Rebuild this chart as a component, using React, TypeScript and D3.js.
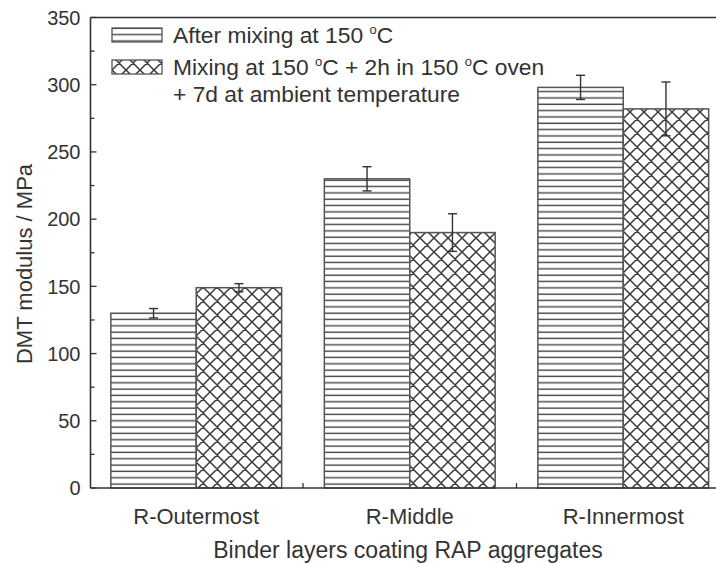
import React from "react"
import * as d3 from "d3"

// categories and values
const categories = ["R-Outermost", "R-Middle", "R-Innermost"]
const seriesKeys = ["mixed", "aged"]
const mixedValues = [130, 230, 298]
const mixedErrors = [3.5, 9, 9]
const agedValues = [149, 190, 282]
const agedErrors = [3, 14, 20]
const yMajorTicks = [0, 50, 100, 150, 200, 250, 300, 350]
const yMinorTicks = [25, 75, 125, 175, 225, 275, 325]

const W = 716
const H = 563
const FONT = "'Liberation Sans', Arial, sans-serif"
const INK = "#333"

export default function App() {
    const x0 = 90.5
    const x1 = 730
    const yTop = 17.5
    const yBottom = 488

    const x = d3.scaleBand<string>()
        .domain(categories)
        .range([89.5, x1])
        .paddingInner(0.2)
        .paddingOuter(0.1)
    const xSub = d3.scaleBand<string>()
        .domain(seriesKeys)
        .range([0, x.bandwidth()])
    const y = d3.scaleLinear()
        .domain([0, 350])
        .range([yBottom, yTop])

    const series = [
        { key: "mixed", values: mixedValues, errors: mixedErrors, fill: "url(#hlines)" },
        { key: "aged", values: agedValues, errors: agedErrors, fill: "url(#xhatch)" },
    ]

    // midpoints between categories get the small x ticks
    const step = x.step()
    const xMinor = categories.slice(1).map(c => (x(c) as number) + x.bandwidth() / 2 - step / 2)

    return (
        <svg width={W} height={H} style={{ position: "absolute", left: 0, top: 0, background: "#fff" }}
            fontFamily={FONT}>
            <defs>
                <pattern id="hlines" patternUnits="userSpaceOnUse" width={10} height={6.33}>
                    <rect width={10} height={6.33} fill="#fff" />
                    <line x1={0} x2={10} y1={3} y2={3} stroke="#444" strokeWidth={1.4} />
                </pattern>
                <pattern id="xhatch" patternUnits="userSpaceOnUse" width={14} height={14}>
                    <rect width={14} height={14} fill="#fff" />
                    <path d="M0,0L14,14M0,14L14,0M-1,1L1,-1M13,15L15,13M-1,13L1,15M13,-1L15,1"
                        stroke="#3a3a3a" strokeWidth={1.5} />
                </pattern>
            </defs>

            {/* bars */}
            {series.map(s => (
                <g key={s.key}>
                    {categories.map((c, i) => {
                        const bx = (x(c) as number) + (xSub(s.key) as number)
                        return (
                            <rect key={c} x={bx} y={y(s.values[i])} width={xSub.bandwidth()}
                                height={yBottom - y(s.values[i])} fill={s.fill}
                                stroke="#555" strokeWidth={1.5} />
                        )
                    })}
                </g>
            ))}

            {/* error bars */}
            {series.map(s => (
                <g key={s.key + "err"} stroke={INK} strokeWidth={1.4}>
                    {categories.map((c, i) => {
                        const cx = (x(c) as number) + (xSub(s.key) as number) + xSub.bandwidth() / 2
                        const hi = y(s.values[i] + s.errors[i])
                        const lo = y(s.values[i] - s.errors[i])
                        return (
                            <g key={c}>
                                <line x1={cx} x2={cx} y1={hi} y2={lo} />
                                <line x1={cx - 4.5} x2={cx + 4.5} y1={hi} y2={hi} />
                                <line x1={cx - 4.5} x2={cx + 4.5} y1={lo} y2={lo} />
                            </g>
                        )
                    })}
                </g>
            ))}

            {/* frame */}
            <g stroke={INK} strokeWidth={1.6} fill="none">
                <line x1={x0} x2={x0} y1={yTop} y2={yBottom} />
                <line x1={x0} x2={W + 20} y1={yTop} y2={yTop} />
                <line x1={x0} x2={W + 20} y1={yBottom} y2={yBottom} />
            </g>

            {/* ticks */}
            <g stroke={INK} strokeWidth={1.3}>
                {yMajorTicks.map(t => <line key={t} x1={x0} x2={x0 + 6} y1={y(t)} y2={y(t)} />)}
                {yMinorTicks.map(t => <line key={t} x1={x0} x2={x0 + 4} y1={y(t)} y2={y(t)} />)}
                {xMinor.map(m => <line key={m} x1={m} x2={m} y1={yBottom} y2={yBottom - 5} />)}
            </g>
            <g fill={INK} fontSize={20} textAnchor="end">
                {yMajorTicks.map(t => (
                    <text key={t} x={x0 - 10} y={y(t)} dy="0.36em">{t}</text>
                ))}
            </g>

            {/* category labels */}
            <g fill={INK} fontSize={22} textAnchor="middle">
                {categories.map(c => (
                    <text key={c} x={(x(c) as number) + x.bandwidth() / 2} y={524}>{c}</text>
                ))}
            </g>

            {/* axis titles */}
            <text x={408} y={558} fontSize={23} fill={INK} textAnchor="middle">
                Binder layers coating RAP aggregates
            </text>
            <text transform="translate(32,264) rotate(-90)" fontSize={22} fill={INK} textAnchor="middle">
                DMT modulus / MPa
            </text>

            {/* legend */}
            <rect x={112} y={28} width={50} height={14} fill="url(#hlines)" stroke="#555" strokeWidth={1.3} />
            <rect x={112} y={60} width={50} height={14} fill="url(#xhatch)" stroke="#555" strokeWidth={1.3} />
            <g fill={INK} fontSize={22.8}>
                <text x={173} y={43}>
                    After mixing at 150 <tspan fontSize={13} dy={-9}>o</tspan><tspan dy={9}>C</tspan>
                </text>
                <text x={173} y={75}>
                    Mixing at 150 <tspan fontSize={13} dy={-9}>o</tspan><tspan dy={9}>C + 2h in 150 </tspan>
                    <tspan fontSize={13} dy={-9}>o</tspan><tspan dy={9}>C oven</tspan>
                </text>
                <text x={173} y={102}>+ 7d at ambient temperature</text>
            </g>
        </svg>
    )
}
